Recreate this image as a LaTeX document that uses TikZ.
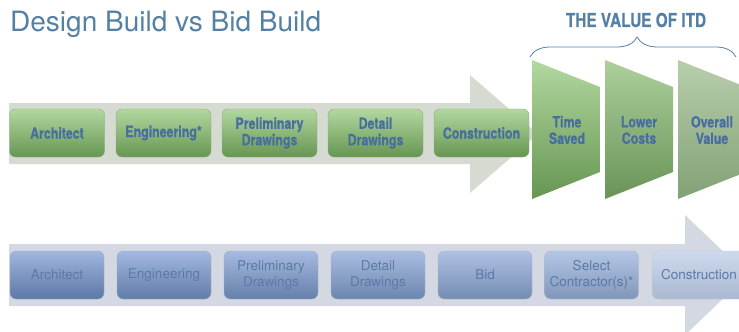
\documentclass[tikz,border=0pt]{standalone}
\usepackage{fontspec}
\setmainfont{TeX Gyre Heros}
\newfontfamily\condfont[FakeStretch=0.8,FakeBold=0.6]{TeX Gyre Heros}
\usetikzlibrary{decorations.pathreplacing}

\definecolor{titleblue}{RGB}{84,128,165}
\definecolor{greenband}{RGB}{214,219,210}
\definecolor{blueband}{RGB}{211,216,226}
\definecolor{greentop}{RGB}{178,216,160}
\definecolor{greenbot}{RGB}{102,150,82}
\definecolor{greentext}{RGB}{72,110,160}
\definecolor{bluetop}{RGB}{160,182,222}
\definecolor{bluebot}{RGB}{92,120,166}
\definecolor{bluetext}{RGB}{92,122,166}

\begin{document}
\begin{tikzpicture}[x=1pt,y=-1pt,
	greenbox/.style={rounded corners=6pt, minimum width=95pt, minimum height=48pt,
		top color=greentop, bottom color=greenbot, draw=greenbot!70!black!60,
		line width=0.4pt, align=center, text=greentext,
		font=\condfont\bfseries\fontsize{15.5}{16.5}\selectfont},
	bluebox/.style={rounded corners=6pt, minimum width=94pt, minimum height=48pt,
		top color=bluetop!#1!white, bottom color=bluebot!#1!white,
		draw=bluebot!#1!white!80!black!50, line width=0.4pt, align=center,
		text=bluetext, font=\fontsize{13.5}{16}\selectfont},
	gain/.style={align=center, text=greentext,
		font=\condfont\bfseries\fontsize{15.5}{16.5}\selectfont}]
	\useasboundingbox (0,0) rectangle (739,332);
	\clip (0,0) rectangle (739,332);

	% heading
	\node[anchor=base west, text=titleblue, inner sep=0pt,
		font=\fontsize{28}{30}\selectfont] (title) at (10,31) {Design Build vs Bid Build};
	\node[anchor=base, text=titleblue, inner sep=0pt,
		font=\condfont\bfseries\fontsize{19.2}{22}\selectfont] (itd) at (636,27) {THE VALUE OF ITD};
	\coordinate (braceL) at (530,57);
	\coordinate (braceR) at (736,57);
	\draw[titleblue, line width=0.8pt, decorate,
		decoration={brace, amplitude=20pt, aspect=0.52}] (braceL) -- (braceR);

	% design build arrow
	\fill[greenband] (9,103) -- (470,103) -- (470,75) -- (538,134) -- (470,193)
		-- (470,164) -- (9,164) -- cycle;
	\node[greenbox] (garch) at (57,133) {Architect};
	\node[greenbox] (geng) at (163.5,133) {Engineering*};
	\node[greenbox] (gpre) at (269.5,133) {Preliminary\\Drawings};
	\node[greenbox] (gdet) at (375.5,133) {Detail\\Drawings};
	\node[greenbox] (gcon) at (481.5,133) {Construction};

	% value of itd
	\shade[top color=greentop, bottom color=greenbot] (532,60) -- (600,87) -- (600,172)
		-- (532,199) -- cycle;
	\node[gain] (time) at (567,130) {Time\\Saved};
	\shade[top color=greentop!90!gray, bottom color=greenbot!90!gray] (605,60) -- (673,87)
		-- (673,172) -- (605,199) -- cycle;
	\node[gain] (cost) at (639,130) {Lower\\Costs};
	\shade[top color=greentop!75!gray!80!white, bottom color=greenbot!75!gray!85!white]
		(678,60) -- (746,87) -- (746,172) -- (678,199) -- cycle;
	\node[gain] (overall) at (712,130) {Overall\\Value};

	% bid build arrow
	\fill[blueband] (9,244) -- (685,244) -- (685,215) -- (748,275) -- (685,335)
		-- (685,306) -- (9,306) -- cycle;
	\node[bluebox=100] (barch) at (57,275) {Architect};
	\node[bluebox=97] (beng) at (164,275) {Engineering};
	\node[bluebox=94] (bpre) at (271,275) {Preliminary\\Drawings};
	\node[bluebox=90] (bdet) at (378,275) {Detail\\Drawings};
	\node[bluebox=85] (bbid) at (485,275) {Bid};
	\node[bluebox=78] (bsel) at (591.5,275) {Select\\Contractor(s)*};
	\node[bluebox=52] (bcon) at (699,275) {Construction};
\end{tikzpicture}
\end{document}
